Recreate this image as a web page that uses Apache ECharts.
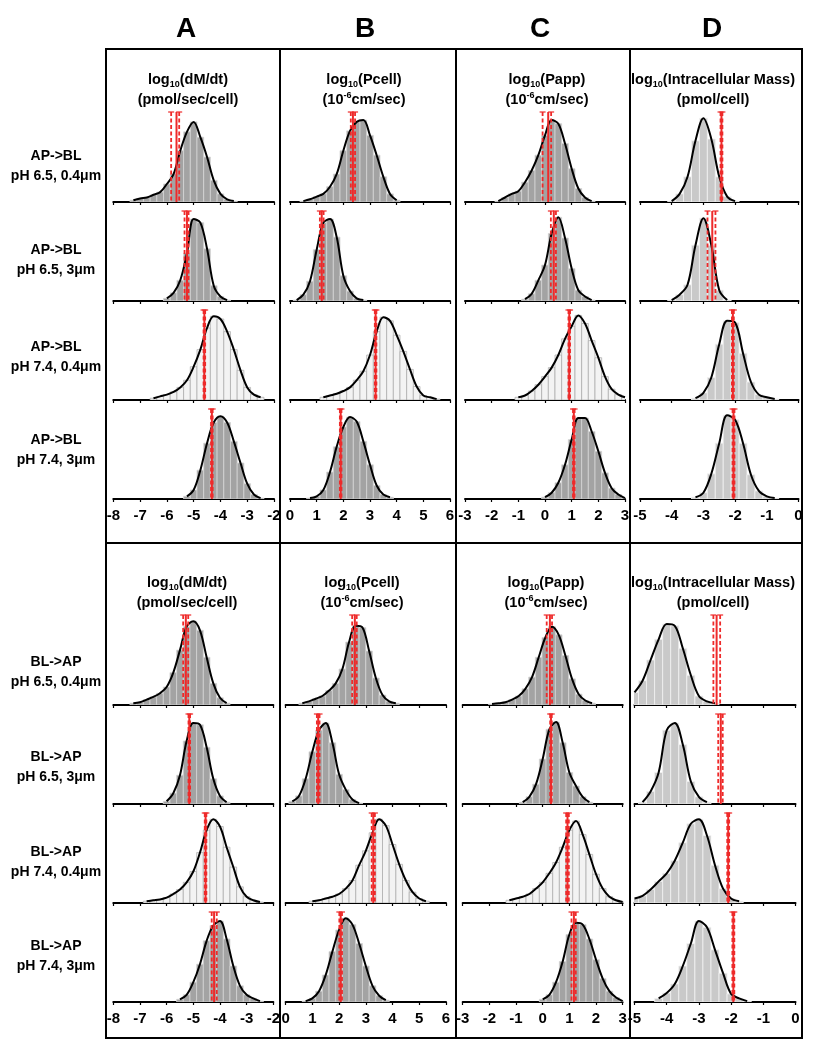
<!DOCTYPE html>
<html><head><meta charset="utf-8">
<script src="https://cdn.jsdelivr.net/npm/echarts@6/dist/echarts.min.js"></script>
<style>html,body{margin:0;padding:0;background:#fff}#c{width:814px;height:1050px}</style>
</head><body><div id="c"></div>
<script>
// ---------------- DATA ----------------
const STEP = 0.25;              // histogram bin width (log10 units)
const columnLetters = ['A', 'B', 'C', 'D'];
const axisMin = [-8, 0, -3, -5];
const axisMax = [-2, 6, 3, 0];
const rowLabelsAP = ['pH 6.5, 0.4\u03bcm', 'pH 6.5, 3\u03bcm', 'pH 7.4, 0.4\u03bcm', 'pH 7.4, 3\u03bcm'];
const rowLabelsBL = rowLabelsAP;

// AP->BL block: first bin centre per row, bin heights (% of panel), CI [low, centre, high]
const AP_A_start = [-7.25, -6.0, -6.5, -5.25];
const AP_A_vals = [
  [2,4,5,8,11,20,31,57,78,89,72,50,24,9,3,1],
  [3,9,23,53,91,87,58,17,5,1],
  [2,4,6,9,14,22,37,56,80,93,90,76,56,33,14,6,3],
  [3,10,32,62,85,92,85,64,40,17,5,1]
];
const AP_A_ci = [[-5.84,-5.64,-5.54],[-5.34,-5.25,-5.19],[-4.63,-4.6,-4.57],[-4.35,-4.32,-4.29]];

const AP_B_start = [0.5, 0.25, 1.25, 0.75];
const AP_B_vals = [
  [1,3,6,9,17,31,57,79,89,91,74,52,28,9,2],
  [1,7,22,57,87,91,71,28,11,3,1],
  [3,5,7,10,14,22,32,50,76,92,88,72,54,34,15,5,3,1],
  [1,3,10,30,58,80,91,86,64,38,15,5,2]
];
const AP_B_ci = [[2.28,2.36,2.44],[1.12,1.19,1.26],[3.18,3.21,3.24],[1.87,1.9,1.93]];

const AP_C_start = [-1.75, -0.75, -1.0, 0.0];
const AP_C_vals = [
  [1,5,9,12,22,35,52,74,91,87,65,37,15,5,1],
  [2,8,23,40,75,93,70,36,12,5,1],
  [3,5,10,17,26,36,50,68,82,94,85,66,47,26,12,6,3],
  [2,7,18,38,66,90,90,75,53,29,12,5,1]
];
const AP_C_ci = [[-0.09,0.12,0.23],[0.22,0.33,0.41],[0.88,0.91,0.94],[1.05,1.08,1.11]];

const AP_D_start = [-4.0, -4.0, -3.25, -3.25];
const AP_D_vals = [
  [1,9,28,68,93,70,28,6,1],
  [1,7,18,62,92,62,12,1],
  [2,8,25,62,88,86,52,20,6,3,1],
  [2,7,28,62,93,88,62,27,9,3,1]
];
const AP_D_ci = [[-2.46,-2.43,-2.40],[-2.87,-2.72,-2.62],[-2.10,-2.07,-2.04],[-2.08,-2.05,-2.02]];

// BL->AP block
const BL_A_start = [-7.25, -6.0, -6.75, -5.5];
const BL_A_vals = [
  [2,3,6,9,13,20,36,61,87,93,83,53,24,8,2],
  [3,12,32,70,90,88,63,28,9,2],
  [2,3,4,6,10,15,23,35,56,81,93,85,62,40,18,7,3,1],
  [3,8,22,42,68,85,90,70,40,18,8,4,1]
];
const BL_A_ci = [[-5.38,-5.28,-5.19],[-5.18,-5.15,-5.12],[-4.57,-4.54,-4.51],[-4.31,-4.22,-4.12]];

const BL_B_start = [0.625, 0.25, 1.0, 0.75];
const BL_B_vals = [
  [2,4,7,10,16,24,40,70,88,86,60,30,11,4,2],
  [3,9,28,58,82,90,68,33,16,5,1],
  [2,3,5,7,10,16,25,42,58,78,93,86,65,43,25,12,5,2],
  [1,4,12,30,56,80,93,86,65,40,18,7,2]
];
const BL_B_ci = [[2.49,2.59,2.66],[1.17,1.22,1.27],[3.22,3.28,3.34],[2.01,2.06,2.11]];

const BL_C_start = [-1.9, -0.75, -1.25, 0.0];
const BL_C_vals = [
  [1,2,3,6,10,18,31,53,75,87,78,55,29,12,5,2],
  [2,8,22,50,83,91,68,35,20,8,2],
  [3,5,7,10,16,23,33,45,62,81,91,76,54,32,16,7,3,1],
  [3,8,22,45,75,88,86,70,47,26,12,5,1]
];
const BL_C_ci = [[0.15,0.27,0.35],[0.28,0.31,0.34],[0.88,0.93,0.98],[1.08,1.17,1.24]];

const BL_D_start = [-5.0, -4.75, -5.0, -4.25];
const BL_D_vals = [
  [14,27,50,73,90,88,63,33,10,4,2],
  [2,14,35,82,90,66,25,8,2],
  [5,8,15,24,33,47,67,88,93,75,42,16,5,2],
  [4,10,20,40,65,90,83,58,32,9,4,1]
];
const BL_D_ci = [[-2.55,-2.45,-2.34],[-2.40,-2.32,-2.26],[-2.12,-2.09,-2.06],[-1.96,-1.93,-1.90]];

// bar shade per row (d = dark, l = light, m = medium)
const shadeABC = ['d','d','l','d'];
const shadeD = ['m','m','m','m'];

// ---------------- LAYOUT / STYLE ----------------
const PANEL_H = 90;
const YMAX = 100;
const FONT = 'Liberation Sans, Arial, sans-serif';
const blocks = [
  { name: 'AP->BL', labels: rowLabelsAP,
    left: [113.3, 290, 465, 640], width: [160.7, 160, 160, 158.5], base: [202, 301, 400, 499],
    labelY: [166, 260, 357, 450], titleY: 80,
    titleX: [188, 364, 547, 713],
    cols: [[AP_A_start,AP_A_vals,AP_A_ci],[AP_B_start,AP_B_vals,AP_B_ci],[AP_C_start,AP_C_vals,AP_C_ci],[AP_D_start,AP_D_vals,AP_D_ci]] },
  { name: 'BL->AP', labels: rowLabelsBL,
    left: [113.3, 285.6, 462.7, 634.5], width: [160, 160.4, 160, 161], base: [705, 804, 903, 1002],
    labelY: [672, 767, 862, 956], titleY: 583,
    titleX: [187, 362, 546, 713],
    cols: [[BL_A_start,BL_A_vals,BL_A_ci],[BL_B_start,BL_B_vals,BL_B_ci],[BL_C_start,BL_C_vals,BL_C_ci],[BL_D_start,BL_D_vals,BL_D_ci]] }
];
const shadeStyle = {
  d: { fill: '#a3a3a3', stroke: '#d4d4d4', lineWidth: 0.8 },
  m: { fill: '#c9c9c9', stroke: '#f2f2f2', lineWidth: 0.8 },
  l: { fill: '#f3f3f3', stroke: '#a8a8a8', lineWidth: 0.7 }
};
const RED = '#ee2a2a';

const grids = [], xAxes = [], yAxes = [], series = [];
let gi = 0;
blocks.forEach(function (blk) {
  blk.cols.forEach(function (col, c) {
    const starts = col[0], vals = col[1], cis = col[2];
    for (let r = 0; r < 4; r++) {
      grids.push({ left: blk.left[c], width: blk.width[c], top: blk.base[r] - PANEL_H, height: PANEL_H, containLabel: false });
      xAxes.push({
        gridIndex: gi, type: 'value', min: axisMin[c], max: axisMax[c], interval: 1,
        axisLine: { show: true, onZero: false, lineStyle: { color: '#000', width: 2 } },
        axisTick: { show: true, length: 3, lineStyle: { color: '#000', width: 1.2 } },
        axisLabel: { show: r === 3, color: '#000', fontWeight: 'bold', fontSize: 15, fontFamily: FONT, margin: 9,
                     showMinLabel: true, showMaxLabel: true },
        splitLine: { show: false }
      });
      yAxes.push({ gridIndex: gi, type: 'value', min: 0, max: YMAX, show: false });
      const pts = vals[r].map(function (v, i) { return [starts[r] + i * STEP, v]; });
      const sh = shadeStyle[(c === 3 ? shadeD : shadeABC)[r]];
      series.push({
        type: 'custom', xAxisIndex: gi, yAxisIndex: gi, clip: true, z: 2, silent: true,
        data: pts,
        renderItem: function (params, api) {
          const x = api.value(0), v = api.value(1);
          const p0 = api.coord([x - STEP / 2, v]);
          const p1 = api.coord([x + STEP / 2, 0]);
          return { type: 'rect', shape: { x: p0[0], y: p0[1], width: p1[0] - p0[0], height: p1[1] - p0[1] },
                   style: { fill: sh.fill, stroke: sh.stroke, lineWidth: sh.lineWidth } };
        }
      });
      series.push({
        type: 'line', xAxisIndex: gi, yAxisIndex: gi, data: pts, smooth: 0.35, showSymbol: false, silent: true,
        lineStyle: { color: '#000', width: 2 }, z: 3
      });
      series.push({
        type: 'custom', xAxisIndex: gi, yAxisIndex: gi, clip: false, z: 4, silent: true,
        data: [cis[r]],
        renderItem: function (params, api) {
          const lo = api.value(0), ce = api.value(1), hi = api.value(2);
          const yTop = api.coord([ce, YMAX])[1], yBot = api.coord([ce, 0])[1];
          const xs = [api.coord([lo, 0])[0], api.coord([hi, 0])[0]];
          const xc = api.coord([ce, 0])[0];
          const kids = [];
          xs.forEach(function (xx) {
            kids.push({ type: 'line', shape: { x1: xx, y1: yTop, x2: xx, y2: yBot },
                        style: { stroke: RED, lineWidth: 1.8, lineDash: [4, 2.5] } });
            kids.push({ type: 'line', shape: { x1: xx - 3, y1: yTop, x2: xx + 3, y2: yTop },
                        style: { stroke: RED, lineWidth: 1.2 } });
          });
          kids.push({ type: 'line', shape: { x1: xc, y1: yTop, x2: xc, y2: yBot },
                      style: { stroke: RED, lineWidth: 2 } });
          return { type: 'group', children: kids };
        }
      });
      gi++;
    }
  });
});

// ---------------- GRAPHIC (frames, headers, titles, row labels) ----------------
const titleTexts = [
  ['{a|log}{s|10}{a|(dM/dt)}', '{a|(pmol/sec/cell)}'],
  ['{a|log}{s|10}{a|(Pcell)}', '{a|(10}{p|-6}{a|cm/sec)}'],
  ['{a|log}{s|10}{a|(Papp)}', '{a|(10}{p|-6}{a|cm/sec)}'],
  ['{a|log}{s|10}{a|(Intracellular Mass)}', '{a|(pmol/cell)}']
];
const rich = {
  a: { fontSize: 14.5, fontWeight: 'bold', fontFamily: FONT, lineHeight: 18, fill: '#000' },
  s: { fontSize: 9, fontWeight: 'bold', fontFamily: FONT, lineHeight: 10, verticalAlign: 'bottom', fill: '#000' },
  p: { fontSize: 9, fontWeight: 'bold', fontFamily: FONT, lineHeight: 10, verticalAlign: 'top', fill: '#000' }
};
const graphic = [];
// frames
graphic.push({ type: 'rect', shape: { x: 106, y: 49, width: 696, height: 494 }, style: { fill: 'none', stroke: '#000', lineWidth: 2 }, z: 10 });
graphic.push({ type: 'rect', shape: { x: 106, y: 543, width: 696, height: 495 }, style: { fill: 'none', stroke: '#000', lineWidth: 2 }, z: 10 });
[280, 456, 630].forEach(function (x) {
  graphic.push({ type: 'line', shape: { x1: x, y1: 49, x2: x, y2: 1038 }, style: { stroke: '#000', lineWidth: 2 }, z: 10 });
});
// column headers
const headerX = [186, 365, 540, 712];
columnLetters.forEach(function (L, i) {
  graphic.push({ type: 'text', x: headerX[i], y: 29, style: { text: L, fontSize: 28, fontWeight: 'bold', fontFamily: FONT, fill: '#000', align: 'center', verticalAlign: 'middle' } });
});
blocks.forEach(function (blk) {
  titleTexts.forEach(function (t, i) {
    graphic.push({ type: 'text', x: blk.titleX[i], y: blk.titleY, style: { text: t[0], rich: rich, align: 'center', verticalAlign: 'middle' } });
    graphic.push({ type: 'text', x: blk.titleX[i], y: blk.titleY + 20, style: { text: t[1], rich: rich, align: 'center', verticalAlign: 'middle' } });
  });
  blk.labels.forEach(function (lab, r) {
    graphic.push({ type: 'text', x: 56, y: blk.labelY[r] - 10, style: { text: blk.name, fontSize: 14, fontWeight: 'bold', fontFamily: FONT, fill: '#000', align: 'center', verticalAlign: 'middle' } });
    graphic.push({ type: 'text', x: 56, y: blk.labelY[r] + 10, style: { text: lab, fontSize: 14, fontWeight: 'bold', fontFamily: FONT, fill: '#000', align: 'center', verticalAlign: 'middle' } });
  });
});

const chart = echarts.init(document.getElementById('c'), null, { renderer: 'canvas', width: 814, height: 1050 });
chart.setOption({
  animation: false,
  backgroundColor: '#fff',
  grid: grids, xAxis: xAxes, yAxis: yAxes, series: series, graphic: graphic
});
</script></body></html>
